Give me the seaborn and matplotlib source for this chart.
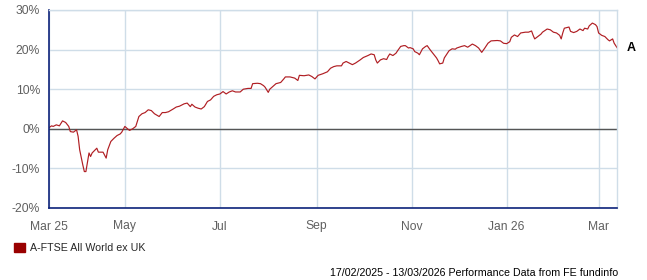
import matplotlib
matplotlib.use("Agg")
import matplotlib.pyplot as plt
from matplotlib.patches import Patch
import seaborn as sns
import pandas as pd
import numpy as np

# ---- data ----
start_date = "2025-03-13"
end_date = "2026-03-13"
series_name = "A-FTSE All World ex UK"
series_label = "A"
days = [0, 2, 3, 5, 7, 9, 11, 13, 14, 16, 18, 19, 20, 22, 23, 24, 26, 27, 28, 30,
        31, 32, 35, 37, 38, 40, 42, 44, 46, 47, 49, 51, 52, 54, 56, 58, 60, 62, 64, 66,
        68, 71, 73, 75, 77, 80, 82, 84, 87, 89, 91, 92, 94, 96, 98, 100, 102, 104, 106, 108,
        110, 112, 114, 116, 118, 120, 123, 125, 128, 130, 131, 134, 136, 138, 139, 141, 142, 144, 146, 149,
        151, 152, 155, 158, 160, 161, 164, 167, 169, 171, 173, 176, 179, 181, 183, 185, 188, 189, 191, 193,
        195, 197, 200, 202, 205, 207, 209, 210, 211, 213, 215, 217, 218, 219, 221, 223, 224, 226, 228, 229,
        231, 232, 234, 235, 237, 238, 240, 242, 243, 245, 247, 249, 250, 251, 253, 254, 257, 259, 261, 262,
        265, 267, 269, 272, 274, 276, 278, 280, 282, 284, 288, 290, 292, 294, 296, 297, 299, 301, 303, 306,
        308, 310, 311, 312, 314, 316, 317, 320, 322, 324, 326, 328, 329, 330, 331, 334, 335, 337, 339, 341,
        343, 344, 346, 347, 349, 351, 352, 353, 355, 357, 359, 360, 362, 363, 365]
values = [0.2, 0.75, 0.6, 1.0, 0.75, 2.0, 1.6, 0.6, -0.7, -0.85, -0.25, -1.9, -5.3, -9.1, -10.8, -10.8, -6.1, -7.0, -6.1, -5.3,
          -4.9, -5.9, -5.9, -7.4, -5.3, -3.2, -2.4, -1.7, -1.3, -0.85, 0.6, -0.1, -0.4, 0.0, 0.6, 3.1, 3.8, 4.1, 4.8, 4.6,
          3.8, 3.1, 4.1, 4.1, 4.3, 5.0, 5.5, 5.7, 6.3, 6.5, 5.6, 6.2, 5.5, 5.2, 5.0, 5.6, 6.9, 7.3, 8.2, 8.6,
          8.8, 9.4, 8.8, 9.3, 9.6, 9.3, 9.3, 10.0, 10.2, 10.2, 11.4, 11.5, 11.4, 10.9, 10.5, 9.2, 10.0, 10.7, 11.4, 11.7,
          12.6, 13.1, 13.1, 12.8, 12.2, 13.5, 13.4, 13.6, 13.2, 12.6, 13.5, 13.9, 14.4, 15.3, 15.7, 15.9, 15.9, 16.6, 17.0, 16.6,
          16.2, 16.6, 17.4, 18.0, 18.5, 18.9, 18.7, 17.4, 16.6, 17.4, 17.7, 17.5, 18.3, 18.9, 18.5, 19.1, 19.7, 20.8, 21.0, 21.0,
          20.4, 20.5, 20.2, 19.5, 19.1, 18.7, 20.2, 20.8, 21.0, 19.9, 18.9, 17.9, 17.2, 16.4, 16.6, 17.9, 19.7, 20.2, 20.1, 20.4,
          20.8, 21.0, 20.6, 21.4, 21.0, 20.4, 19.3, 20.4, 21.6, 22.2, 22.3, 22.2, 21.6, 21.5, 22.0, 23.1, 23.7, 23.3, 24.2, 24.4,
          24.4, 24.7, 23.6, 22.7, 23.3, 23.9, 24.4, 25.2, 25.0, 24.4, 24.2, 23.6, 22.7, 24.2, 25.4, 25.7, 24.6, 24.3, 24.6, 25.2,
          24.8, 25.4, 25.2, 26.0, 26.7, 26.3, 25.8, 24.2, 23.6, 23.3, 22.5, 22.2, 22.7, 21.6, 20.4]
tick_dates = ["2025-03-13", "2025-05-01", "2025-07-01", "2025-09-01", "2025-11-01", "2026-01-01", "2026-03-01"]
tick_labels = ["Mar 25", "May", "Jul", "Sep", "Nov", "Jan 26", "Mar"]
y_ticks = [-20, -10, 0, 10, 20, 30]
footer = "17/02/2025 - 13/03/2026 Performance Data from FE fundinfo"

# ---- style ----
sns.set_style("white")
plt.rcParams["font.family"] = ["Liberation Sans", "DejaVu Sans"]

line_color = "#b01e23"
legend_color = "#990000"
grid_color = "#cfdde8"
axis_color = "#0d237a"
tick_color = "#606060"

df = pd.DataFrame({
    "date": pd.Timestamp(start_date) + pd.to_timedelta(days, unit="D"),
    "value": values,
})

fig = plt.figure(figsize=(6.47, 2.80), dpi=100)
ax = fig.add_axes([48.5 / 647, 1 - 208 / 280, (617.3 - 48.5) / 647, (208 - 10) / 280])

sns.lineplot(data=df, x="date", y="value", ax=ax, color=line_color, linewidth=0.85)

ax.set_xlim(pd.Timestamp(start_date), pd.Timestamp(end_date))
ax.set_ylim(-20, 30)
ax.set_yticks(y_ticks)
ax.set_yticklabels([f"{v}%" for v in y_ticks])
ax.set_xticks(pd.to_datetime(tick_dates))
ax.set_xticklabels(tick_labels)
ax.set_xlabel("")
ax.set_ylabel("")

ax.grid(True, color=grid_color, linewidth=1.0)
ax.set_axisbelow(True)
ax.axhline(0, color="#555555", linewidth=1.0, zorder=1.5)

for s in ["top", "right"]:
    ax.spines[s].set_color(grid_color)
    ax.spines[s].set_linewidth(1.0)
for s in ["left", "bottom"]:
    ax.spines[s].set_color(axis_color)
    ax.spines[s].set_linewidth(1.2)

ax.tick_params(axis="both", length=0, labelsize=8.7, labelcolor=tick_color)
ax.tick_params(axis="y", pad=6)
ax.tick_params(axis="x", pad=9)

# end-of-line label
ax.annotate(series_label, xy=(df["date"].iloc[-1], df["value"].iloc[-1]),
            xytext=(7, 0), textcoords="offset points", ha="left", va="center",
            fontsize=9, fontweight="bold", color="black", annotation_clip=False)

# legend
handles = [Patch(facecolor=legend_color, edgecolor=legend_color)]
fig.legend(handles, [series_name], loc="center left", bbox_to_anchor=(12 / 647, 1 - 248 / 280),
           frameon=False, fontsize=7.7, handlelength=1.0, handleheight=1.0, handletextpad=0.45,
           borderaxespad=0, borderpad=0.2)

fig.text(618 / 647, 1 - 272.5 / 280, footer, ha="right", va="center", fontsize=7.7, color="black")

fig.savefig("out.png", dpi=100)
